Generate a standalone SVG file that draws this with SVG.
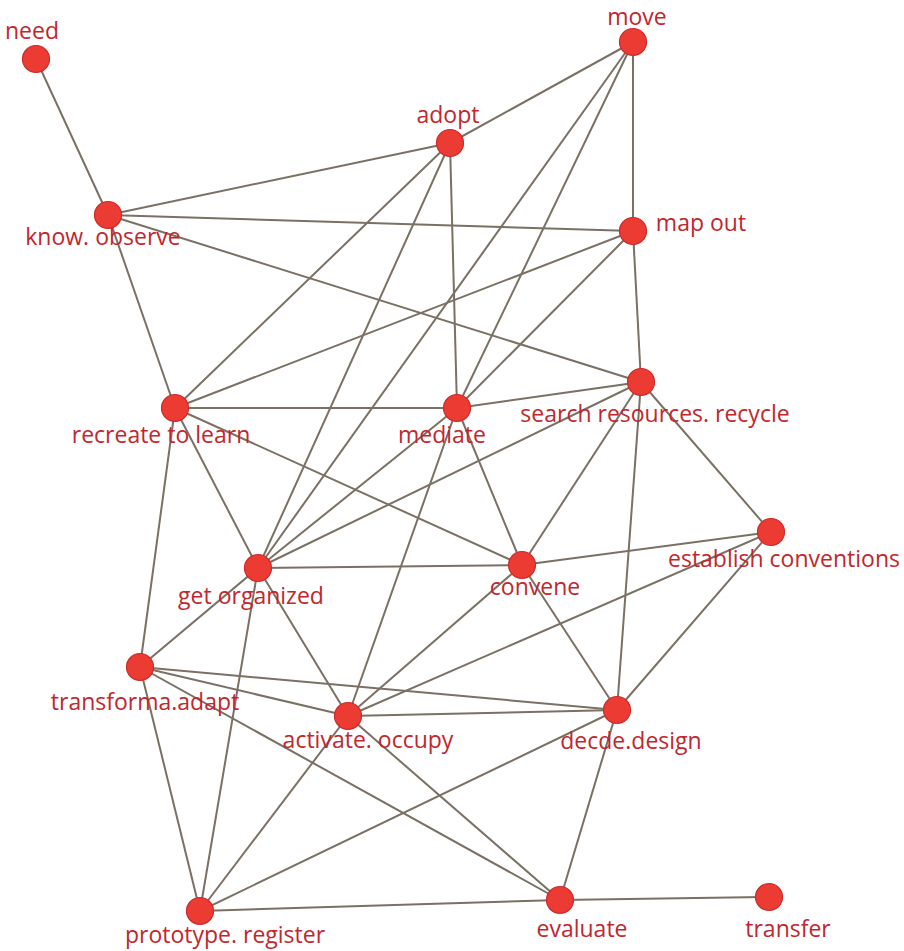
<svg xmlns="http://www.w3.org/2000/svg" width="904" height="951" viewBox="0 0 904 951">
<style>
.e{stroke:#7a7064;stroke-width:2;fill:none}
.n circle{fill:#ec3b32;stroke:#cc2b2b;stroke-width:1.2}
.n text{font-family:"Open Sans","Liberation Sans",sans-serif;font-size:23px;fill:#c1272d;text-anchor:middle}
</style>
<rect width="904" height="951" fill="#fff"/>
<g id="edges" class="e">
<line x1="36" y1="59" x2="108" y2="215"/>
<line x1="108" y1="215" x2="450" y2="143"/>
<line x1="108" y1="215" x2="633" y2="231"/>
<line x1="108" y1="215" x2="641" y2="382"/>
<line x1="108" y1="215" x2="175" y2="408"/>
<line x1="633" y1="42" x2="450" y2="143"/>
<line x1="633" y1="42" x2="633" y2="231"/>
<line x1="633" y1="42" x2="258" y2="568"/>
<line x1="633" y1="42" x2="457" y2="408"/>
<line x1="450" y1="143" x2="175" y2="408"/>
<line x1="450" y1="143" x2="258" y2="568"/>
<line x1="450" y1="143" x2="457" y2="408"/>
<line x1="633" y1="231" x2="175" y2="408"/>
<line x1="633" y1="231" x2="457" y2="408"/>
<line x1="633" y1="231" x2="641" y2="382"/>
<line x1="641" y1="382" x2="457" y2="408"/>
<line x1="641" y1="382" x2="258" y2="568"/>
<line x1="641" y1="382" x2="522" y2="565"/>
<line x1="641" y1="382" x2="617" y2="710"/>
<line x1="641" y1="382" x2="771" y2="532"/>
<line x1="175" y1="408" x2="457" y2="408"/>
<line x1="175" y1="408" x2="522" y2="565"/>
<line x1="175" y1="408" x2="258" y2="568"/>
<line x1="175" y1="408" x2="140" y2="667"/>
<line x1="457" y1="408" x2="258" y2="568"/>
<line x1="457" y1="408" x2="522" y2="565"/>
<line x1="457" y1="408" x2="348" y2="716"/>
<line x1="258" y1="568" x2="522" y2="565"/>
<line x1="258" y1="568" x2="140" y2="667"/>
<line x1="258" y1="568" x2="348" y2="716"/>
<line x1="258" y1="568" x2="200" y2="911"/>
<line x1="522" y1="565" x2="771" y2="532"/>
<line x1="522" y1="565" x2="348" y2="716"/>
<line x1="522" y1="565" x2="617" y2="710"/>
<line x1="771" y1="532" x2="348" y2="716"/>
<line x1="771" y1="532" x2="617" y2="710"/>
<line x1="140" y1="667" x2="348" y2="716"/>
<line x1="140" y1="667" x2="617" y2="710"/>
<line x1="140" y1="667" x2="560" y2="900"/>
<line x1="140" y1="667" x2="200" y2="911"/>
<line x1="348" y1="716" x2="617" y2="710"/>
<line x1="348" y1="716" x2="200" y2="911"/>
<line x1="348" y1="716" x2="560" y2="900"/>
<line x1="200" y1="911" x2="617" y2="710"/>
<line x1="200" y1="911" x2="560" y2="900"/>
<line x1="617" y1="710" x2="560" y2="900"/>
<line x1="560" y1="900" x2="769" y2="897"/>
</g>
<g id="need" class="n"><circle cx="36" cy="59" r="13.5"/><text x="32" y="39">need</text></g>
<g id="move" class="n"><circle cx="633" cy="42" r="13.5"/><text x="637" y="25">move</text></g>
<g id="adopt" class="n"><circle cx="450" cy="143" r="13.5"/><text x="448" y="123">adopt</text></g>
<g id="know-observe" class="n"><circle cx="108" cy="215" r="13.5"/><text x="103" y="245">know. observe</text></g>
<g id="map-out" class="n"><circle cx="633" cy="231" r="13.5"/><text x="701" y="231">map out</text></g>
<g id="search-resources-recycle" class="n"><circle cx="641" cy="382" r="13.5"/><text x="655" y="422">search resources. recycle</text></g>
<g id="recreate-to-learn" class="n"><circle cx="175" cy="408" r="13.5"/><text x="161" y="443">recreate to learn</text></g>
<g id="mediate" class="n"><circle cx="457" cy="408" r="13.5"/><text x="442" y="443">mediate</text></g>
<g id="get-organized" class="n"><circle cx="258" cy="568" r="13.5"/><text x="251" y="604">get organized</text></g>
<g id="convene" class="n"><circle cx="522" cy="565" r="13.5"/><text x="535" y="595">convene</text></g>
<g id="establish-conventions" class="n"><circle cx="771" cy="532" r="13.5"/><text x="784" y="567">establish conventions</text></g>
<g id="transforma-adapt" class="n"><circle cx="140" cy="667" r="13.5"/><text x="145" y="710">transforma.adapt</text></g>
<g id="activate-occupy" class="n"><circle cx="348" cy="716" r="13.5"/><text x="368" y="748">activate. occupy</text></g>
<g id="decde-design" class="n"><circle cx="617" cy="710" r="13.5"/><text x="631" y="749">decde.design</text></g>
<g id="prototype-register" class="n"><circle cx="200" cy="911" r="13.5"/><text x="225" y="943">prototype. register</text></g>
<g id="evaluate" class="n"><circle cx="560" cy="900" r="13.5"/><text x="582" y="937">evaluate</text></g>
<g id="transfer" class="n"><circle cx="769" cy="897" r="13.5"/><text x="788" y="937">transfer</text></g>
</svg>
